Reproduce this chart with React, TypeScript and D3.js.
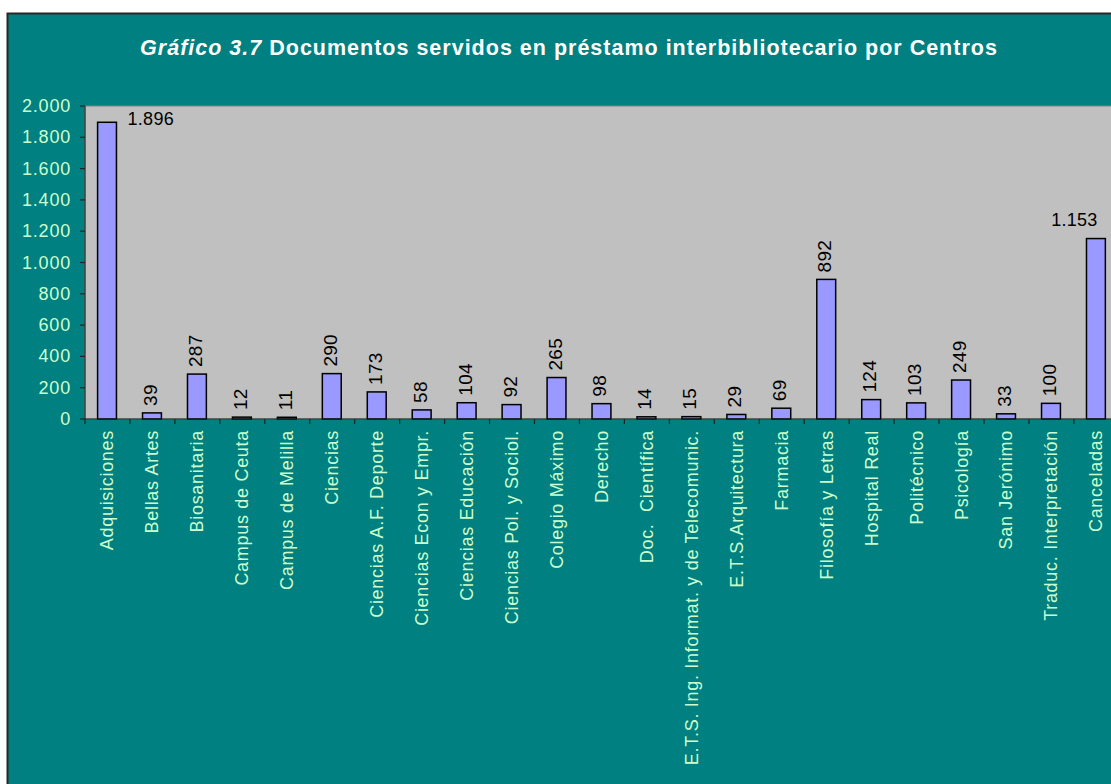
import React from "react";
import * as d3 from "d3";

const categories: string[] = [
  "Adquisiciones",
  "Bellas Artes",
  "Biosanitaria",
  "Campus de Ceuta",
  "Campus de Melilla",
  "Ciencias",
  "Ciencias A.F. Deporte",
  "Ciencias Econ y Empr.",
  "Ciencias Educación",
  "Ciencias Pol. y Sociol.",
  "Colegio Máximo",
  "Derecho",
  "Doc.  Científica",
  "E.T.S. Ing. Informat. y de Telecomunic.",
  "E.T.S.Arquitectura",
  "Farmacia",
  "Filosofía y Letras",
  "Hospital Real",
  "Politécnico",
  "Psicología",
  "San Jerónimo",
  "Traduc. Interpretación",
  "Canceladas",
];

const values: number[] = [
  1896, 39, 287, 12, 11, 290, 173, 58, 104, 92, 265, 98, 14, 15, 29, 69, 892,
  124, 103, 249, 33, 100, 1153,
];

const yTicks: number[] = [0, 200, 400, 600, 800, 1000, 1200, 1400, 1600, 1800, 2000];

const W = 1111;
const H = 784;
const plotLeft = 85;
const plotTop = 106;
const plotBottom = 419;
const bandW = 44.95;
const plotRight = plotLeft + bandW * categories.length;

const FONT = "Arial, 'Liberation Sans', sans-serif";
const fmt = (v: number) => d3.format(",")(v).replace(/,/g, ".");

export default function App() {
  const x = d3
    .scaleBand<string>()
    .domain(categories)
    .range([plotLeft, plotRight])
    .paddingInner(0)
    .paddingOuter(0);
  const y = d3.scaleLinear().domain([0, 2000]).range([plotBottom, plotTop]);
  const bw = x.bandwidth();
  const barOff = bw * 0.28;
  const barW = bw * 0.42;

  return (
    <svg
      width={W}
      height={H}
      style={{ position: "absolute", left: 0, top: 0 }}
      fontFamily={FONT}
    >
      <rect x={0} y={0} width={W} height={H} fill="#ffffff" />
      <rect
        x={7.5}
        y={13.5}
        width={1140}
        height={800}
        fill="#008080"
        stroke="#262626"
        strokeWidth={2}
      />
      <text
        x={569}
        y={55}
        textAnchor="middle"
        fill="#ffffff"
        fontWeight="bold"
        fontSize={21.5}
        letterSpacing={1}
      >
        <tspan fontStyle="italic">Gráfico 3.7</tspan>
        <tspan> Documentos servidos en préstamo interbibliotecario por Centros</tspan>
      </text>

      {/* plot area */}
      <rect
        x={plotLeft}
        y={plotTop}
        width={plotRight - plotLeft}
        height={plotBottom - plotTop}
        fill="#C0C0C0"
        stroke="#808080"
        strokeWidth={1}
      />

      {/* y axis */}
      <line x1={plotLeft} x2={plotLeft} y1={plotTop} y2={plotBottom} stroke="#333" strokeWidth={1.2} />
      {yTicks.map((t) => (
        <g key={t}>
          <line x1={plotLeft - 5} x2={plotLeft} y1={y(t)} y2={y(t)} stroke="#222" strokeWidth={1.2} />
          <text
            x={71}
            y={y(t)}
            textAnchor="end"
            dominantBaseline="central"
            fill="#CCFFCC"
            fontSize={18}
            letterSpacing={0.8}
          >
            {fmt(t)}
          </text>
        </g>
      ))}

      {/* bars */}
      {categories.map((c, i) => {
        const x0 = (x(c) as number) + barOff;
        const v = values[i];
        return (
          <rect
            key={c}
            x={x0}
            y={y(v)}
            width={barW}
            height={plotBottom - y(v)}
            fill="#9999FF"
            stroke="#000"
            strokeWidth={1.5}
          />
        );
      })}

      {/* x axis */}
      <line x1={plotLeft} x2={plotRight} y1={plotBottom} y2={plotBottom} stroke="#222" strokeWidth={1.2} />
      {categories.map((c, i) => (
        <line
          key={"t" + i}
          x1={x(c) as number}
          x2={x(c) as number}
          y1={plotBottom}
          y2={plotBottom + 5}
          stroke="#222"
          strokeWidth={1.2}
        />
      ))}

      {/* category labels */}
      {categories.map((c) => {
        const cx = (x(c) as number) + bw / 2;
        return (
          <text
            key={"l" + c}
            transform={`translate(${cx},430) rotate(-90)`}
            textAnchor="end"
            dominantBaseline="central"
            fill="#CCFFCC"
            fontSize={18}
            letterSpacing={0.7}
            style={{ whiteSpace: "pre" }}
          >
            {c}
          </text>
        );
      })}

      {/* value labels */}
      {categories.map((c, i) => {
        const v = values[i];
        const x0 = (x(c) as number) + barOff;
        const cx = x0 + barW / 2 - 1.5;
        const top = y(v);
        if (v > 1500) {
          return (
            <text key={"v" + c} x={x0 + barW + 11} y={top + 3} fontSize={18} letterSpacing={0.3} fill="#000">
              {fmt(v)}
            </text>
          );
        }
        if (v > 1000) {
          return (
            <text key={"v" + c} x={cx - 20} y={top - 13} textAnchor="middle" fontSize={18} letterSpacing={0.3} fill="#000">
              {fmt(v)}
            </text>
          );
        }
        return (
          <text
            key={"v" + c}
            transform={`translate(${cx},${top - 7}) rotate(-90)`}
            textAnchor="start"
            dominantBaseline="central"
            fontSize={19}
            letterSpacing={0.3}
            fill="#000"
          >
            {fmt(v)}
          </text>
        );
      })}
    </svg>
  );
}
